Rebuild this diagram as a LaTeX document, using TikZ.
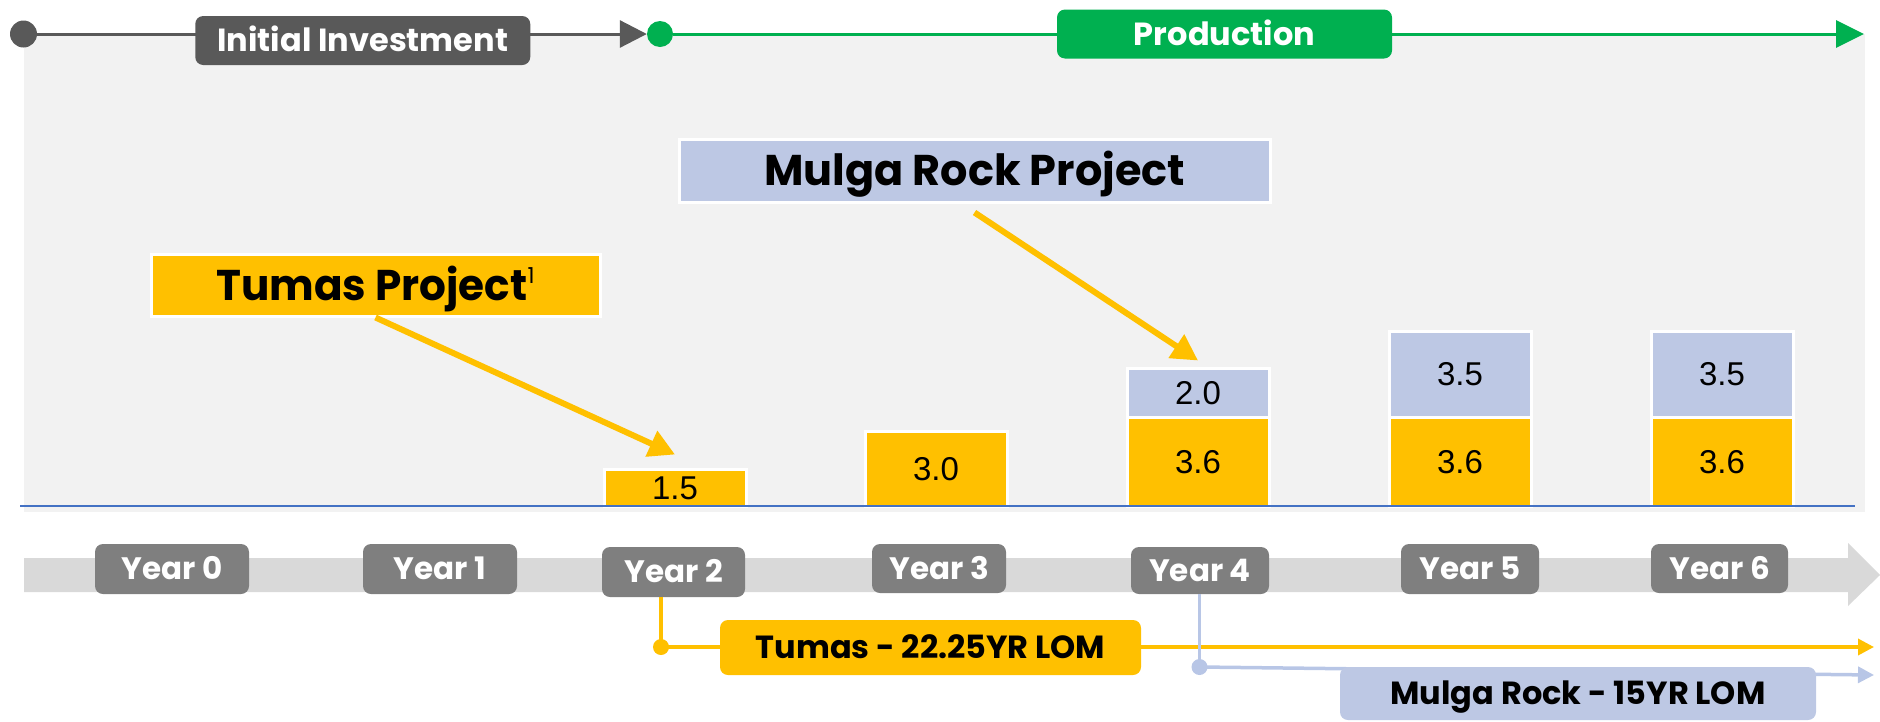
\documentclass[tikz,border=0pt]{standalone}
\usepackage{fontspec}
\setmainfont{Poppins}
\newfontfamily\arialf{Liberation Sans}
\usetikzlibrary{arrows.meta}
\definecolor{dgray}{HTML}{595959}
\definecolor{pgreen}{HTML}{00B050}
\definecolor{panel}{HTML}{F2F2F2}
\definecolor{gold}{HTML}{FFC000}
\definecolor{lav}{HTML}{BDC8E4}
\definecolor{lavline}{HTML}{B8C6E6}
\definecolor{ygray}{HTML}{7F7F7F}
\definecolor{bandc}{HTML}{D9D9D9}
\definecolor{basel}{HTML}{4472C4}
\tikzset{
  phase/.style={rounded corners=8pt, inner sep=0pt, text=white,
    font=\fontsize{32}{32}\selectfont\bfseries, text height=22.4pt, text depth=0pt,
    minimum width=335pt, minimum height=49pt},
  yearbox/.style={fill=ygray, rounded corners=8pt, inner sep=0pt, text=white,
    font=\fontsize{31}{31}\selectfont\bfseries, text height=21.7pt, text depth=0pt},
  title/.style={draw=white, line width=3pt, inner sep=0pt, text=black,
    font=\fontsize{43}{43}\selectfont\bfseries, text height=30.1pt, text depth=0pt},
  bar/.style={draw=white, line width=3pt, inner sep=0pt, minimum width=142pt,
    font=\arialf\fontsize{33}{33}\selectfont, text height=23.6pt, text depth=0pt},
  lom/.style={rounded corners=8pt, inner sep=0pt, text=black,
    font=\fontsize{32}{32}\selectfont\bfseries, text height=22.4pt, text depth=0pt},
  dot/.style={circle, inner sep=0pt, minimum size=#1},
  callout/.style={gold, line width=6pt, -{Triangle[length=26pt,width=27pt]}},
}
\begin{document}
\begin{tikzpicture}[x=1pt,y=-1pt]
\useasboundingbox (0,0) rectangle (1880,721);
\clip (0,0) rectangle (1880,721);
% panel
\fill[panel] (24,34) rectangle (1865,512);
% top timeline
\node[dot=27pt, fill=dgray] (d0) at (23.5,34) {};
\node[dot=26pt, fill=pgreen] (d1) at (660,34) {};
\coordinate (pend) at (1864,34);
\draw[dgray, line width=3pt, -{Triangle[length=27pt,width=27pt]}] (d0.east) -- (d1.west);
\draw[pgreen, line width=3pt, -{Triangle[length=28pt,width=27pt]}] (d1.east) -- (pend);
\node[phase, fill=dgray] (inv) at (362.75,40.5) {Initial Investment};
\node[phase, fill=pgreen] (prod) at (1224.5,34) {Production};
% bars
\node[bar, fill=gold, minimum height=37pt] (b2) at (675,487.5) {1.5};
\node[bar, fill=gold, minimum height=75pt] (b3) at (936,468.5) {3.0};
\node[bar, fill=gold, minimum height=89pt] (b4) at (1198,461.5) {3.6};
\node[bar, fill=lav, minimum height=49pt] (b4b) at (1198,392.5) {2.0};
\node[bar, fill=gold, minimum height=89pt] (b5) at (1460,461.5) {3.6};
\node[bar, fill=lav, minimum height=86pt] (b5b) at (1460,374) {3.5};
\node[bar, fill=gold, minimum height=89pt] (b6) at (1722,461.5) {3.6};
\node[bar, fill=lav, minimum height=86pt] (b6b) at (1722,374) {3.5};
\draw[basel, line width=2.5pt] (20,506) -- (1855,506);
% titles and callouts
\node[title, fill=gold, minimum width=449pt, minimum height=62pt] (tumas) at (375.5,285)
  {\scalebox{0.98}[1]{Tumas Project}\raisebox{17pt}{\fontsize{22}{22}\selectfont\mdseries 1}};
\node[title, fill=lav, minimum width=591pt, minimum height=63pt] (mulga) at (974.5,170.5) {Mulga Rock Project};
\draw[callout] (tumas.south) -- ([yshift=13pt]b2.north);
\draw[callout] ([yshift=-9pt]mulga.south) -- ([yshift=6pt]b4b.north);
% year band
\fill[bandc] (24,558) -- (1848,558) -- (1848,543) -- (1880,575) -- (1848,606) -- (1848,592) -- (24,592) -- cycle;
\node[yearbox, minimum width=154pt, minimum height=50pt] (y0) at (172,569) {Year 0};
\node[yearbox, minimum width=154pt, minimum height=50pt] (y1) at (440,569) {Year 1};
\node[yearbox, minimum width=143pt, minimum height=50pt] (y2) at (673.5,572) {Year 2};
\node[yearbox, minimum width=134pt, minimum height=49pt] (y3) at (939,568.5) {Year 3};
\node[yearbox, minimum width=138pt, minimum height=47pt] (y4) at (1200,570.5) {Year 4};
\node[yearbox, minimum width=138pt, minimum height=50pt] (y5) at (1470,569) {Year 5};
\node[yearbox, minimum width=137pt, minimum height=49pt] (y6) at (1719.5,568.5) {Year 6};
% life of mine
\node[dot=16pt, fill=gold] (td) at (661,647) {};
\coordinate (tend) at (1874,647);
\draw[gold, line width=3.5pt] (y2.south -| td) -- (td.center);
\draw[gold, line width=3.5pt, -{Triangle[length=16pt,width=16pt]}] (td.center) -- (tend);
\node[lom, fill=gold, minimum width=421pt, minimum height=55pt] (tlom) at (930.5,647.5) {Tumas - 22.25YR LOM};
\node[dot=16pt, fill=lavline] (md) at (1199.5,667) {};
\coordinate (mend) at (1874,675);
\draw[lavline, line width=3.5pt] (y4.south -| md) -- (md.center);
\draw[lavline, line width=3.5pt, -{Triangle[length=16pt,width=16pt]}] (md.center) -- (mend);
\node[lom, fill=lav, minimum width=476pt, minimum height=53pt] (mlom) at (1578,693.5) {Mulga Rock - 15YR LOM};
\end{tikzpicture}
\end{document}
